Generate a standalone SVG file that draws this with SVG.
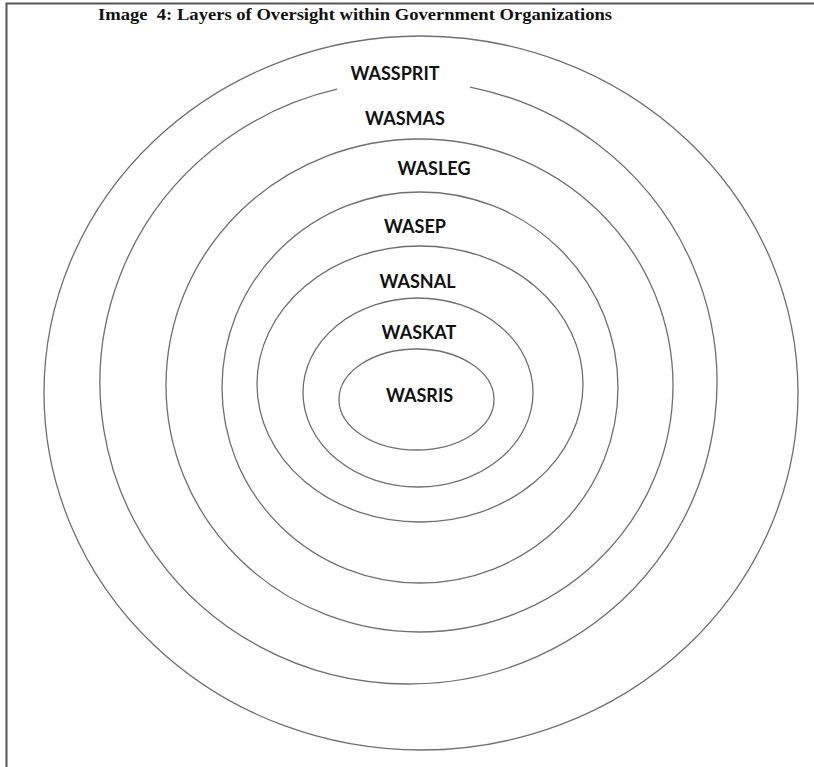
<svg xmlns="http://www.w3.org/2000/svg" width="814" height="767" viewBox="0 0 814 767">
<style>
.ring{fill:none;stroke:#6f6f6f;stroke-width:1.3}
.lbl{font-family:Lato,"Liberation Sans",sans-serif;font-weight:bold;font-size:18px;fill:#111;text-anchor:middle}
.title{font-family:"Liberation Serif",serif;font-weight:bold;font-size:16.5px;fill:#111}
.frame{stroke:#555;stroke-width:2;fill:none}
</style>
<rect width="814" height="767" fill="#fff"/>
<path class="frame" d="M6.5 767 V3.5 H814"/>
<text class="title" x="98" y="20" xml:space="preserve" textLength="514" lengthAdjust="spacingAndGlyphs">Image  4: Layers of Oversight within Government Organizations</text>
<g id="wassprit">
<ellipse class="ring" cx="421" cy="393" rx="377" ry="357"/>
<text class="lbl" x="395" y="80">WASSPRIT</text>
</g>
<g id="wasmas">
<path class="ring" d="M470 87.05 A308.5 301.5 0 1 1 337 89.2"/>
<text class="lbl" x="405" y="125">WASMAS</text>
</g>
<g id="wasleg">
<ellipse class="ring" cx="419.5" cy="385.5" rx="253.5" ry="246.5"/>
<text class="lbl" x="434" y="175">WASLEG</text>
</g>
<g id="wasep">
<ellipse class="ring" cx="420" cy="387.5" rx="198" ry="195.5"/>
<text class="lbl" x="415" y="233">WASEP</text>
</g>
<g id="wasnal">
<ellipse class="ring" cx="420" cy="384" rx="163" ry="138"/>
<text class="lbl" x="417.5" y="288">WASNAL</text>
</g>
<g id="waskat">
<ellipse class="ring" cx="418" cy="392.5" rx="115" ry="94.5"/>
<text class="lbl" x="419" y="339">WASKAT</text>
</g>
<g id="wasris">
<ellipse class="ring" cx="416.5" cy="399.5" rx="77.5" ry="50.5"/>
<text class="lbl" x="419.5" y="402">WASRIS</text>
</g>
<g id="connectors"/>
</svg>
